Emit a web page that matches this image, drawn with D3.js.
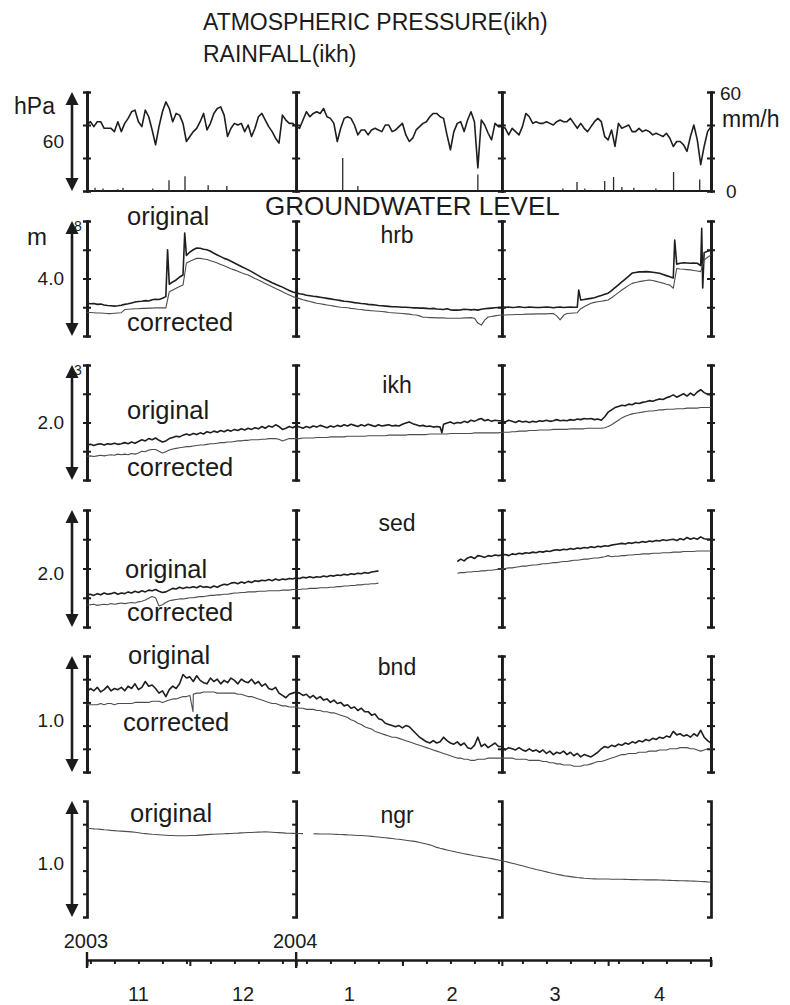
<!DOCTYPE html>
<html>
<head>
<meta charset="utf-8">
<script src="https://cdn.jsdelivr.net/npm/d3@7"></script>
<style>
  body { margin: 0; background: #fff; }
  svg { display: block; }
  text { font-family: "Liberation Sans", Arial, Helvetica, sans-serif; fill: #1b1b1b; }
  .domain { stroke: #1b1b1b; stroke-width: 2.7; fill: none; }
  .tick line { stroke: #1b1b1b; stroke-width: 2; }
  .orig { fill: none; stroke: #1e1e1e; stroke-width: 1.6; stroke-linejoin: round; }
  .corr { fill: none; stroke: #4d4d4d; stroke-width: 1.1; stroke-linejoin: round; }
</style>
</head>
<body>
<svg id="chart" width="790" height="1005"></svg>
<script>
// Record period, one value per day starting at startDate
const startDate = "2003-11-01";
const endDate = "2004-05-01";

// Atmospheric pressure at ikh (hPa), daily
const pressure = [
  1020,1022,1019,1022,1022,1018,1018,1018,1016,1022,
  1016,1021,1024,1028,1029,1022,1019,1029,1025,1017,
  1008,1019,1028,1034,1030,1022,1027,1026,1021,1010,
  1013,1016,1018,1022,1027,1017,1021,1027,1030,1031,
  1026,1013,1018,1021,1020,1021,1016,1020,1013,1018,
  1025,1027,1023,1019,1016,1012,1009,1026,1023,1021,
  1021,1019,1018,1023,1028,1025,1027,1028,1027,1030,
  1025,1024,1021,1010,1018,1024,1025,1024,1020,1014,
  1017,1017,1014,1017,1018,1017,1016,1020,1020,1016,
  1017,1019,1021,1014,1010,1012,1017,1019,1021,1022,
  1025,1027,1027,1025,1024,1014,1005,1016,1021,1022,
  1016,1023,1028,1022,994,1023,1020,1015,1011,1021,
  1019,1019,1018,1014,1018,1016,1014,1019,1027,1025,
  1021,1022,1021,1021,1022,1021,1020,1022,1023,1022,
  1022,1024,1021,1018,1021,1018,1016,1019,1022,1024,
  1022,1013,1011,1017,1007,1021,1018,1019,1020,1016,
  1016,1018,1016,1017,1016,1014,1015,1014,1013,1015,
  1012,1007,1010,1010,1008,1004,1013,1020,1011,996,
  1007,1016,1019
];

// Rainfall at ikh (mm/h)
const rainTimes = [
  "2003-11-03T08","2003-11-05T16","2003-11-10T00","2003-11-11T12","2003-11-20T05",
  "2003-11-24T22","2003-11-29T14","2003-12-06T08","2003-12-11T19","2004-01-14T14",
  "2004-01-19T00","2004-02-23T00","2004-03-18T19","2004-03-22T22","2004-03-25T05",
  "2004-03-31T00","2004-04-02T14","2004-04-05T00","2004-04-08T12","2004-04-14T22",
  "2004-04-20T02","2004-04-27T17"
];
const rainRates = [2,1.5,1,2,1.5, 6.5,9,3.5,3,20, 3,10,1.5,5.5,1.5, 6,8.5,2.5,2,1.5, 11.5,7];

// Groundwater level (m), daily
const hrbOriginal = [
  5.14,5.12,5.13,5.10,5.11,5.08,5.06,5.05,5.04,5.05,
  5.07,5.10,5.12,5.15,5.18,5.20,5.21,5.23,5.22,5.26,
  5.28,5.27,5.31,5.37,5.80,5.88,5.95,6.05,6.12,6.80,
  6.92,7.00,7.06,7.05,7.02,7.00,6.95,6.88,6.82,6.76,
  6.70,6.66,6.60,6.54,6.48,6.42,6.36,6.30,6.24,6.17,
  6.10,6.03,5.97,5.91,5.85,5.80,5.75,5.70,5.64,5.58,
  5.53,5.50,5.47,5.45,5.42,5.40,5.38,5.37,5.35,5.33,
  5.31,5.29,5.27,5.25,5.23,5.21,5.20,5.18,5.16,5.15,
  5.13,5.12,5.10,5.09,5.08,5.06,5.05,5.04,5.03,5.02,
  5.02,5.01,5.00,5.00,4.99,4.98,4.98,4.97,4.97,4.96,
  4.95,4.96,4.94,4.93,4.92,4.95,4.91,4.90,4.90,4.91,
  4.93,4.92,4.91,4.92,4.90,4.93,4.95,4.96,4.97,4.98,
  4.99,5.00,5.00,5.01,4.99,5.00,5.02,5.00,4.99,5.01,
  5.00,4.99,4.99,5.00,5.01,5.00,4.98,5.00,5.01,4.99,
  5.00,5.01,5.00,5.00,5.25,5.27,5.29,5.31,5.33,5.37,
  5.41,5.45,5.49,5.58,5.68,5.78,5.88,5.98,6.08,6.19,
  6.21,6.23,6.23,6.24,6.23,6.22,6.20,6.18,6.14,6.10,
  6.06,6.02,6.50,6.53,6.55,6.54,6.53,6.54,6.53,6.45,
  6.90,6.95,7.00
];
const hrbOriginalSpikes = [
  ["2003-11-24T12",7.00],["2003-11-29T12",7.58],["2004-03-23T10",5.60],
  ["2004-04-20T10",7.34],["2004-04-28T07",7.75],["2004-04-28T14",5.67]
];
const hrbCorrected = [
  4.82,4.82,4.81,4.80,4.80,4.79,4.78,4.78,4.79,4.80,
  4.81,4.92,4.93,4.94,4.95,4.95,4.96,4.96,4.97,4.97,
  4.98,4.98,4.98,4.98,5.54,5.60,5.66,5.72,5.77,6.54,
  6.60,6.65,6.70,6.70,6.68,6.66,6.62,6.58,6.54,6.49,
  6.44,6.39,6.34,6.30,6.25,6.20,6.16,6.12,6.06,6.00,
  5.95,5.89,5.83,5.77,5.71,5.65,5.60,5.54,5.48,5.43,
  5.37,5.33,5.30,5.26,5.23,5.20,5.17,5.14,5.12,5.10,
  5.08,5.06,5.04,5.02,5.00,4.99,4.98,4.96,4.95,4.93,
  4.92,4.90,4.89,4.88,4.87,4.86,4.85,4.84,4.82,4.81,
  4.80,4.79,4.78,4.77,4.76,4.74,4.73,4.70,4.65,4.65,
  4.64,4.64,4.63,4.63,4.63,4.62,4.62,4.62,4.62,4.62,
  4.63,4.63,4.64,4.62,4.45,4.38,4.55,4.66,4.68,4.70,
  4.72,4.73,4.73,4.74,4.74,4.75,4.75,4.75,4.76,4.76,
  4.76,4.77,4.77,4.77,4.77,4.78,4.78,4.70,4.56,4.72,
  4.78,4.79,4.80,4.81,4.95,5.02,5.08,5.14,5.17,5.19,
  5.21,5.23,5.25,5.33,5.42,5.51,5.60,5.68,5.76,5.83,
  5.86,5.89,5.91,5.93,5.95,5.93,5.90,5.87,5.84,5.80,
  5.77,5.66,6.35,6.33,6.32,6.31,6.30,6.28,6.26,6.24,
  6.64,6.74,6.82
];

const ikhOriginal = [
  1.61,1.62,1.60,1.62,1.63,1.61,1.63,1.62,1.64,1.62,
  1.63,1.65,1.63,1.66,1.64,1.67,1.70,1.68,1.72,1.70,
  1.73,1.69,1.66,1.68,1.72,1.74,1.76,1.75,1.78,1.80,
  1.78,1.81,1.79,1.82,1.80,1.84,1.82,1.85,1.83,1.86,
  1.84,1.87,1.85,1.88,1.86,1.89,1.87,1.90,1.88,1.91,
  1.89,1.93,1.90,1.94,1.92,1.96,1.93,1.88,1.90,1.93,
  1.91,1.94,1.92,1.90,1.93,1.91,1.94,1.92,1.95,1.93,
  1.91,1.94,1.92,1.95,1.93,1.96,1.94,1.97,1.95,1.93,
  1.96,1.94,1.97,1.95,1.93,1.96,1.94,1.95,1.96,1.94,
  1.95,1.94,1.97,1.99,2.01,1.98,1.96,1.94,1.95,1.93,
  1.94,1.92,1.93,1.92,1.97,1.99,2.01,1.98,2.00,1.99,
  2.02,2.00,2.04,2.02,2.05,2.07,2.03,2.05,2.02,2.04,
  2.03,2.03,2.01,2.04,2.02,2.00,2.03,2.01,2.02,2.00,
  2.02,2.01,2.03,2.02,2.04,2.02,2.03,2.05,2.03,2.04,
  2.03,2.05,2.04,2.06,2.05,2.07,2.06,2.07,2.05,2.06,
  2.04,2.10,2.18,2.22,2.26,2.28,2.30,2.29,2.32,2.31,
  2.34,2.33,2.35,2.36,2.38,2.37,2.39,2.41,2.40,2.43,
  2.45,2.48,2.44,2.47,2.50,2.46,2.51,2.47,2.53,2.57,
  2.52,2.49,2.48
];
const ikhOriginalSpikes = [["2004-02-12T12",1.82]];
const ikhCorrected = [
  1.41,1.42,1.41,1.42,1.43,1.42,1.43,1.44,1.43,1.45,
  1.44,1.45,1.44,1.46,1.45,1.47,1.50,1.49,1.52,1.53,
  1.53,1.50,1.47,1.49,1.52,1.54,1.55,1.56,1.57,1.58,
  1.58,1.59,1.60,1.61,1.61,1.62,1.63,1.63,1.64,1.65,
  1.65,1.66,1.66,1.67,1.68,1.68,1.69,1.69,1.70,1.70,
  1.70,1.71,1.71,1.72,1.72,1.72,1.71,1.68,1.70,1.72,
  1.72,1.72,1.72,1.73,1.73,1.73,1.73,1.74,1.74,1.74,
  1.74,1.75,1.75,1.75,1.75,1.75,1.76,1.76,1.76,1.76,
  1.76,1.76,1.77,1.77,1.77,1.77,1.77,1.77,1.78,1.78,
  1.78,1.78,1.78,1.78,1.79,1.79,1.79,1.79,1.79,1.79,
  1.80,1.80,1.80,1.80,1.80,1.80,1.81,1.81,1.81,1.81,
  1.81,1.81,1.81,1.82,1.82,1.82,1.82,1.82,1.82,1.82,
  1.82,1.83,1.83,1.83,1.84,1.84,1.85,1.85,1.85,1.86,
  1.86,1.86,1.87,1.87,1.87,1.87,1.88,1.88,1.88,1.88,
  1.88,1.89,1.89,1.89,1.89,1.89,1.90,1.90,1.90,1.90,
  1.90,1.91,1.93,1.96,2.00,2.04,2.08,2.11,2.13,2.15,
  2.16,2.17,2.18,2.19,2.20,2.20,2.21,2.22,2.22,2.23,
  2.23,2.23,2.24,2.24,2.24,2.25,2.25,2.25,2.25,2.26,
  2.26,2.26,2.26
];

const sedOriginal = [
  0.55,0.56,0.54,0.57,0.55,0.58,0.56,0.57,0.59,0.56,
  0.58,0.57,0.60,0.58,0.61,0.59,0.62,0.60,0.63,0.62,
  0.64,0.61,0.59,0.60,0.63,0.66,0.65,0.68,0.66,0.68,
  0.67,0.69,0.67,0.70,0.68,0.69,0.67,0.70,0.68,0.71,
  0.73,0.72,0.75,0.76,0.74,0.77,0.75,0.78,0.76,0.79,
  0.78,0.80,0.79,0.81,0.79,0.82,0.80,0.82,0.81,0.83,
  0.82,0.84,0.83,0.85,0.84,0.86,0.84,0.86,0.85,0.87,
  0.86,0.88,0.87,0.89,0.88,0.90,0.89,0.91,0.90,0.92,
  0.91,0.93,0.92,0.94,0.95,0.96,
  null,null,null,null,null,null,null,null,null,null,null,
  null,null,null,null,null,null,null,null,null,null,null,
  1.12,1.16,
  1.13,1.18,1.20,1.17,1.22,1.21,1.19,1.22,1.21,1.23,
  1.22,1.23,1.24,1.22,1.25,1.24,1.26,1.25,1.27,1.26,
  1.28,1.27,1.29,1.28,1.30,1.29,1.31,1.32,1.31,1.33,
  1.32,1.34,1.33,1.35,1.34,1.36,1.35,1.37,1.36,1.38,
  1.37,1.39,1.38,1.40,1.41,1.42,1.43,1.42,1.44,1.43,
  1.45,1.44,1.46,1.45,1.47,1.46,1.48,1.47,1.49,1.48,
  1.49,1.50,1.48,1.51,1.49,1.53,1.50,1.52,1.50,1.54,
  1.51,1.50,1.50
];
const sedCorrected = [
  0.38,0.38,0.39,0.37,0.38,0.39,0.38,0.40,0.39,0.40,
  0.41,0.40,0.41,0.42,0.41,0.43,0.44,0.46,0.49,0.52,
  0.50,0.36,0.38,0.42,0.45,0.46,0.47,0.48,0.48,0.49,
  0.50,0.50,0.51,0.52,0.52,0.53,0.54,0.54,0.55,0.55,
  0.56,0.56,0.57,0.58,0.58,0.59,0.59,0.60,0.60,0.60,
  0.61,0.61,0.61,0.62,0.62,0.62,0.62,0.63,0.63,0.63,
  0.64,0.64,0.64,0.65,0.65,0.66,0.66,0.66,0.67,0.67,
  0.67,0.68,0.68,0.69,0.69,0.70,0.70,0.71,0.71,0.72,
  0.72,0.73,0.73,0.74,0.74,0.75,
  null,null,null,null,null,null,null,null,null,null,null,
  null,null,null,null,null,null,null,null,null,null,null,
  0.92,0.93,
  0.93,0.94,0.94,0.95,0.95,0.96,0.96,0.97,0.97,0.98,
  0.99,0.99,1.00,1.01,1.01,1.02,1.03,1.04,1.04,1.05,
  1.06,1.06,1.07,1.08,1.08,1.09,1.10,1.10,1.11,1.12,
  1.12,1.13,1.14,1.14,1.15,1.16,1.16,1.17,1.18,1.18,
  1.19,1.20,1.22,1.20,1.21,1.21,1.22,1.22,1.23,1.23,
  1.24,1.24,1.25,1.25,1.25,1.26,1.26,1.26,1.27,1.27,
  1.27,1.28,1.28,1.28,1.29,1.29,1.29,1.29,1.30,1.30,
  1.30,1.30,1.30
];

const bndOriginal = [
  0.69,0.72,0.70,0.73,0.69,0.71,0.74,0.70,0.72,0.71,
  0.73,0.70,0.74,0.72,0.76,0.71,0.73,0.78,0.74,0.75,
  0.72,0.68,0.70,0.65,0.71,0.74,0.72,0.76,0.84,0.81,
  0.82,0.78,0.83,0.79,0.77,0.76,0.81,0.78,0.80,0.76,
  0.79,0.77,0.81,0.79,0.76,0.80,0.78,0.77,0.80,0.76,
  0.78,0.74,0.76,0.72,0.71,0.73,0.68,0.66,0.64,0.67,
  0.68,0.69,0.68,0.66,0.67,0.64,0.66,0.63,0.65,0.62,
  0.63,0.60,0.62,0.59,0.60,0.57,0.58,0.55,0.56,0.53,
  0.55,0.52,0.52,0.49,0.50,0.46,0.45,0.42,0.41,0.40,
  0.39,0.40,0.38,0.40,0.39,0.36,0.33,0.30,0.28,0.26,
  0.25,0.27,0.25,0.26,0.30,0.27,0.25,0.24,0.26,0.23,
  0.25,0.21,0.20,0.23,0.30,0.22,0.24,0.21,0.23,0.25,
  0.22,0.22,0.19,0.21,0.20,0.19,0.21,0.19,0.18,0.20,
  0.18,0.19,0.17,0.19,0.16,0.18,0.15,0.17,0.16,0.18,
  0.15,0.17,0.14,0.16,0.13,0.15,0.14,0.13,0.15,0.17,
  0.20,0.22,0.21,0.23,0.22,0.24,0.23,0.25,0.24,0.26,
  0.25,0.27,0.26,0.28,0.27,0.29,0.28,0.30,0.29,0.31,
  0.30,0.35,0.32,0.33,0.31,0.32,0.30,0.33,0.31,0.36,
  0.30,0.27,0.25
];
const bndCorrected = [
  0.58,0.58,0.58,0.58,0.59,0.58,0.59,0.59,0.58,0.59,
  0.59,0.59,0.59,0.59,0.60,0.60,0.60,0.60,0.60,0.61,
  0.61,0.61,0.60,0.61,0.62,0.63,0.63,0.64,0.65,0.65,
  0.66,0.67,0.68,0.68,0.69,0.69,0.69,0.69,0.68,0.68,
  0.68,0.68,0.68,0.68,0.67,0.67,0.66,0.65,0.65,0.64,
  0.63,0.62,0.61,0.60,0.59,0.59,0.58,0.57,0.57,0.56,
  0.56,0.56,0.55,0.55,0.54,0.54,0.54,0.53,0.53,0.52,
  0.52,0.51,0.51,0.50,0.49,0.48,0.47,0.45,0.44,0.42,
  0.41,0.39,0.38,0.37,0.35,0.34,0.33,0.32,0.31,0.30,
  0.30,0.29,0.28,0.27,0.26,0.25,0.24,0.23,0.22,0.21,
  0.20,0.19,0.18,0.17,0.16,0.15,0.14,0.13,0.12,0.12,
  0.11,0.11,0.10,0.10,0.11,0.11,0.11,0.12,0.12,0.12,
  0.12,0.12,0.12,0.12,0.12,0.11,0.11,0.11,0.11,0.10,
  0.10,0.10,0.10,0.09,0.09,0.08,0.08,0.07,0.07,0.06,
  0.06,0.06,0.05,0.05,0.05,0.06,0.06,0.07,0.08,0.09,
  0.09,0.10,0.11,0.12,0.13,0.14,0.15,0.15,0.16,0.16,
  0.16,0.17,0.17,0.17,0.18,0.18,0.18,0.19,0.19,0.19,
  0.20,0.20,0.20,0.21,0.21,0.21,0.20,0.20,0.19,0.18,
  0.19,0.20,0.20
];
const bndCorrectedSpikes = [["2003-12-01T22",0.52]];

const ngrOriginal = [
  0.765,0.763,0.760,0.758,0.755,0.752,0.750,0.747,0.745,0.742,
  0.740,0.738,0.736,0.734,0.730,0.726,0.722,0.719,0.716,0.713,
  0.711,0.709,0.707,0.705,0.703,0.702,0.701,0.700,0.700,0.701,
  0.702,0.703,0.704,0.706,0.708,0.710,0.712,0.713,0.715,0.716,
  0.718,0.719,0.720,0.722,0.723,0.725,0.726,0.728,0.729,0.731,
  0.732,0.733,0.735,0.733,0.731,0.729,0.727,0.725,0.723,0.722,
  0.721,0.720,0.720,0.719,null,null,0.718,0.717,0.716,0.716,
  0.715,0.715,0.714,0.712,0.711,0.710,0.708,0.707,0.705,0.703,
  0.702,0.700,0.698,0.695,0.692,0.689,0.686,0.683,0.680,0.677,
  0.673,0.670,0.666,0.662,0.658,0.654,0.650,0.643,0.636,0.629,
  0.622,0.612,0.600,0.592,0.585,0.578,0.571,0.565,0.558,0.552,
  0.546,0.540,0.534,0.528,0.523,0.518,0.513,0.508,0.503,0.497,
  0.491,0.485,0.478,0.471,0.464,0.457,0.449,0.441,0.433,0.425,
  0.418,0.410,0.403,0.396,0.389,0.382,0.375,0.369,0.363,0.357,
  0.352,0.348,0.344,0.340,0.337,0.334,0.332,0.330,0.329,0.328,
  0.327,0.327,0.327,0.326,0.326,0.325,0.325,0.324,0.323,0.322,
  0.322,0.321,0.321,0.320,0.320,0.320,0.320,0.319,0.318,0.317,
  0.316,0.315,0.314,0.313,0.312,0.311,0.310,0.309,0.308,0.306,
  0.305,0.303,0.302
];

// Axis labels
const monthLabels = ["11", "12", "1", "2", "3", "4"];
const yearMarks = ["2003-11-01", "2004-01-01"];
const yearLabels = ["2003", "2004"];

// ---------------------------------------------------------------
const parseDay = d3.timeParse("%Y-%m-%d");
const parseHour = d3.timeParse("%Y-%m-%dT%H");
const t0 = parseDay(startDate), t1 = parseDay(endDate);
const days = d3.range(pressure.length).map(i => d3.timeDay.offset(t0, i));

const svg = d3.select("#chart");
const x = d3.scaleTime().domain([t0, t1]).range([87, 711]);
const frameDates = d3.timeMonth.every(2).range(t0, d3.timeDay.offset(t1, 1));

function series(values, spikes = []) {
  const pts = values.map((v, i) => ({ t: days[i], v }));
  spikes.forEach(([s, v]) => pts.push({ t: parseHour(s), v }));
  return pts.sort((a, b) => a.t - b.t);
}

function drawFrames(y, ticks, bothSides) {
  const g = svg.append("g");
  frameDates.forEach(d => {
    g.append("g").attr("transform", `translate(${x(d)},0)`)
      .call(d3.axisLeft(y).tickValues(ticks).tickSizeInner(4).tickSizeOuter(4).tickFormat(""));
    if (bothSides) {
      g.append("g").attr("transform", `translate(${x(d)},0)`)
        .call(d3.axisRight(y).tickValues(ticks).tickSizeInner(4).tickSizeOuter(4).tickFormat(""));
    }
  });
}

function drawArrow(top, bottom) {
  const ax = 72;
  svg.append("line").attr("x1", ax).attr("x2", ax).attr("y1", top + 8).attr("y2", bottom - 8)
    .attr("stroke", "#1b1b1b").attr("stroke-width", 2.6);
  svg.append("path").attr("d", `M${ax},${top} L${ax - 6.5},${top + 13} L${ax + 6.5},${top + 13} Z`).attr("fill", "#1b1b1b");
  svg.append("path").attr("d", `M${ax},${bottom} L${ax - 6.5},${bottom - 13} L${ax + 6.5},${bottom - 13} Z`).attr("fill", "#1b1b1b");
}

function label(txt, px, py, size, anchor = "start") {
  svg.append("text").attr("x", px).attr("y", py).attr("font-size", size)
    .attr("text-anchor", anchor).text(txt);
}

// ---- Titles ----
label("ATMOSPHERIC PRESSURE(ikh)", 203, 30, 23);
label("RAINFALL(ikh)", 203, 62, 23);

// ---- Pressure and rainfall panel ----
const pTop = 92, pBottom = 191;
const yP = d3.scaleLinear().domain([980, 1040]).range([pBottom, pTop]);
const yR = d3.scaleLinear().domain([0, 60]).range([pBottom, pTop]);

drawFrames(yR, [20, 40], true);
svg.append("line").attr("x1", x(t0)).attr("x2", x(t1)).attr("y1", yR(0)).attr("y2", yR(0))
  .attr("stroke", "#1b1b1b").attr("stroke-width", 2);

svg.append("g").selectAll("line").data(rainTimes.map((s, i) => ({ t: parseHour(s), v: rainRates[i] })))
  .join("line")
  .attr("x1", d => x(d.t)).attr("x2", d => x(d.t))
  .attr("y1", yR(0)).attr("y2", d => yR(d.v))
  .attr("stroke", "#2a2a2a").attr("stroke-width", 1.3);

svg.append("path").attr("class", "orig").attr("stroke-width", 1.2)
  .attr("d", d3.line().x(d => x(d.t)).y(d => yP(d.v))(series(pressure)));

drawArrow(pTop, pBottom);
label("hPa", 14, 114, 23);
label("60", 64, 148, 19, "end");
label("60", 720, 100, 19);
label("mm/h", 722, 127, 23);
label("0", 726, 198, 19);

// ---- Groundwater panels ----
label("GROUNDWATER LEVEL", 265, 215, 26);

const panels = [
  { name: "hrb", top: 221, bottom: 336, domain: [4, 8], step: 1, span: "4.0", spanY: 285, nameY: 243,
    corner: "8", lines: [[hrbOriginal, hrbOriginalSpikes, "orig"], [hrbCorrected, [], "corr"]],
    texts: [["original", 127, 225], ["corrected", 127, 331]] },
  { name: "ikh", top: 365, bottom: 480, domain: [1, 3], step: 0.5, span: "2.0", spanY: 429, nameY: 393,
    corner: "3", lines: [[ikhOriginal, ikhOriginalSpikes, "orig"], [ikhCorrected, [], "corr"]],
    texts: [["original", 127, 419], ["corrected", 127, 476]] },
  { name: "sed", top: 510, bottom: 627, domain: [0, 2], step: 0.5, span: "2.0", spanY: 580, nameY: 531,
    lines: [[sedOriginal, [], "orig"], [sedCorrected, [], "corr"]],
    texts: [["original", 125, 578], ["corrected", 127, 621]] },
  { name: "bnd", top: 656, bottom: 772, domain: [0, 1], step: 0.2, span: "1.0", spanY: 727, nameY: 675,
    lines: [[bndOriginal, [], "orig"], [bndCorrected, bndCorrectedSpikes, "corr"]],
    texts: [["original", 128, 664], ["corrected", 123, 731]] },
  { name: "ngr", top: 801, bottom: 917, domain: [0, 1], step: 0.2, span: "1.0", spanY: 870, nameY: 823,
    leftOnly: true, lines: [[ngrOriginal, [], "corr"]],
    texts: [["original", 130, 822]] }
];

panels.forEach(p => {
  const y = d3.scaleLinear().domain(p.domain).range([p.bottom, p.top]);
  const ticks = d3.range(p.domain[0] + p.step, p.domain[1] - p.step / 2, p.step);
  drawFrames(y, ticks, !p.leftOnly);

  const line = d3.line().defined(d => d.v != null).x(d => x(d.t)).y(d => y(d.v));
  p.lines.forEach(([vals, spikes, cls]) => {
    svg.append("path").attr("class", cls).attr("d", line(series(vals, spikes)));
  });

  if (p.corner) label(p.corner, 78, p.top + 10, 14, "middle");
  drawArrow(p.top, p.bottom);
  label(p.span, 64, p.spanY, 19, "end");
  label(p.name, 397, p.nameY, 23, "middle");
  p.texts.forEach(([t, tx, ty]) => label(t, tx, ty, 25.5));
});
label("m", 27, 245, 24);

// ---- Time axis ----
const axisY = 960;
const gx = svg.append("g").attr("transform", `translate(0,${axisY})`);
gx.append("g").call(d3.axisBottom(x).ticks(d3.timeWeek).tickSizeInner(4).tickSizeOuter(0).tickFormat(""))
  .selectAll(".tick line").attr("stroke-width", 1.8);
gx.select(".domain").attr("stroke-width", 2.2);
gx.append("g").call(d3.axisBottom(x).ticks(d3.timeMonth).tickSizeInner(6).tickSizeOuter(0).tickFormat(""))
  .call(g => g.select(".domain").remove())
  .selectAll(".tick line").attr("stroke-width", 2.2);
gx.append("line").attr("x1", x(t1)).attr("x2", x(t1)).attr("y1", -3).attr("y2", 7)
  .attr("stroke", "#1b1b1b").attr("stroke-width", 2.2);

yearMarks.forEach((s, i) => {
  const xd = x(parseDay(s));
  gx.append("line").attr("x1", xd).attr("x2", xd).attr("y1", -8).attr("y2", 8)
    .attr("stroke", "#1b1b1b").attr("stroke-width", 2.4);
  label(yearLabels[i], xd - 1, 948, 20, "middle");
});

const months = d3.timeMonth.range(t0, t1);
months.forEach((m, i) => {
  const mid = new Date((+m + +d3.timeMonth.offset(m, 1)) / 2);
  label(monthLabels[i], x(mid), 1001, 20, "middle");
});
</script>
</body>
</html>
